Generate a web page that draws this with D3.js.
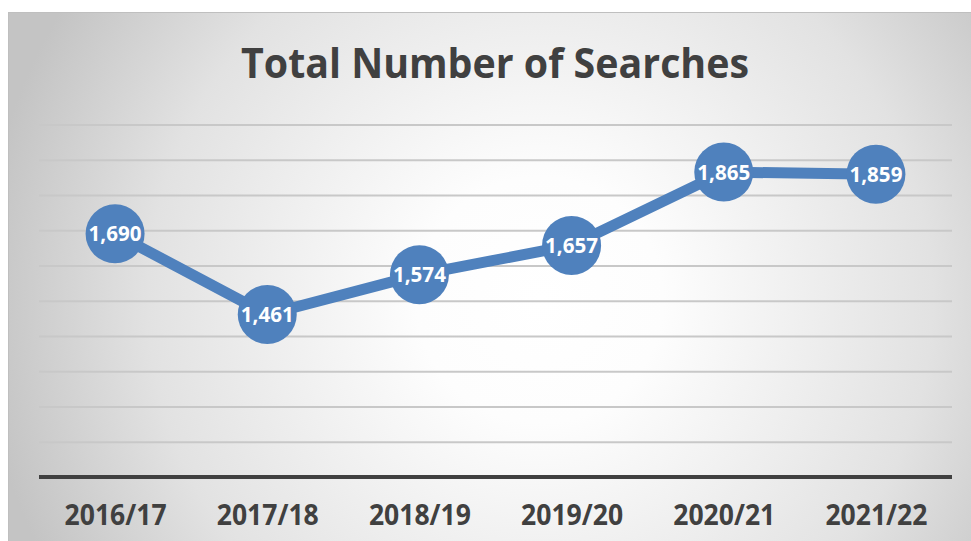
<!DOCTYPE html>
<html>
<head>
<meta charset="utf-8">
<script src="https://cdn.jsdelivr.net/npm/d3@7"></script>
<style>
    html, body { margin: 0; padding: 0; background: #fff; }
    svg { display: block; font-family: "Open Sans", "Noto Sans", sans-serif; }
</style>
</head>
<body>
<div id="chart"></div>
<script>
const years = ["2016/17", "2017/18", "2018/19", "2019/20", "2020/21", "2021/22"];
const searches = [1690, 1461, 1574, 1657, 1865, 1859];
const gridTicks = [1100, 1200, 1300, 1400, 1500, 1600, 1700, 1800, 1900, 2000];

const width = 971;
const height = 541;

const plot = {
    left: 39,
    right: 952,
    top: 124.5,
    bottom: 477
};

const blue = "#4f81bd";
const textColour = "#404040";

// Scales: categories sit in the middle of equal bands, values run 1,000 to 2,000.
const x = d3.scalePoint()
    .domain(years)
    .range([plot.left, plot.right])
    .padding(0.5);

const y = d3.scaleLinear()
    .domain([1000, 2000])
    .range([plot.bottom, plot.top]);

const svg = d3.select("#chart").append("svg")
    .attr("width", width)
    .attr("height", height);

// Radial grey-to-white fill for the chart area.
const grad = svg.append("defs").append("radialGradient")
    .attr("id", "bg")
    .attr("gradientUnits", "userSpaceOnUse")
    .attr("cx", 540)
    .attr("cy", 300)
    .attr("r", 560);

grad.append("stop").attr("offset", "0%").attr("stop-color", "#ffffff");
grad.append("stop").attr("offset", "22%").attr("stop-color", "#fdfdfd");
grad.append("stop").attr("offset", "70%").attr("stop-color", "#e2e2e2");
grad.append("stop").attr("offset", "100%").attr("stop-color", "#c4c4c4");

svg.append("rect")
    .attr("x", 8.5)
    .attr("y", 12.5)
    .attr("width", 975)
    .attr("height", 540)
    .attr("fill", "url(#bg)")
    .attr("stroke", "#bfbfbf")
    .attr("stroke-width", 1);

// Title.
svg.append("text")
    .attr("x", 495)
    .attr("y", 78)
    .attr("text-anchor", "middle")
    .attr("font-size", 42)
    .attr("font-weight", 700)
    .attr("fill", textColour)
    .attr("textLength", 508)
    .attr("lengthAdjust", "spacingAndGlyphs")
    .text("Total Number of Searches");

// Horizontal gridlines from a y-axis with full-width ticks.
const grid = svg.append("g")
    .attr("transform", `translate(${plot.left}, 0)`)
    .call(d3.axisRight(y)
        .tickValues(gridTicks)
        .tickSize(plot.right - plot.left)
        .tickFormat(""));

grid.select(".domain").remove();
grid.selectAll(".tick line")
    .attr("stroke", "#c8c8c8")
    .attr("stroke-width", 2);

// X axis: heavy baseline, bold category labels, no ticks.
const xAxis = svg.append("g")
    .attr("transform", `translate(0, ${plot.bottom})`)
    .call(d3.axisBottom(x).tickSize(0).tickPadding(28));

xAxis.select(".domain")
    .attr("d", `M${plot.left},0H${plot.right}`)
    .attr("stroke", "#404040")
    .attr("stroke-width", 4);

xAxis.selectAll(".tick text")
    .attr("font-family", "\"Open Sans\", \"Noto Sans\", sans-serif")
    .attr("font-size", 28)
    .attr("font-weight", 700)
    .attr("fill", textColour)
    .attr("textLength", 102)
    .attr("lengthAdjust", "spacingAndGlyphs");

// The line itself.
const line = d3.line()
    .x((d, i) => x(years[i]))
    .y(d => y(d));

svg.append("path")
    .attr("d", line(searches))
    .attr("fill", "none")
    .attr("stroke", blue)
    .attr("stroke-width", 11)
    .attr("stroke-linejoin", "round");

// Markers with their value labels inside.
const points = svg.append("g")
    .selectAll("g")
    .data(searches)
    .join("g")
    .attr("transform", (d, i) => `translate(${x(years[i])}, ${y(d)})`);

points.append("circle")
    .attr("r", 29.5)
    .attr("fill", blue);

points.append("text")
    .attr("text-anchor", "middle")
    .attr("dy", "0.36em")
    .attr("font-size", 21)
    .attr("font-weight", 700)
    .attr("fill", "#ffffff")
    .attr("textLength", 53)
    .attr("lengthAdjust", "spacingAndGlyphs")
    .text(d => d3.format(",")(d));
</script>
</body>
</html>
